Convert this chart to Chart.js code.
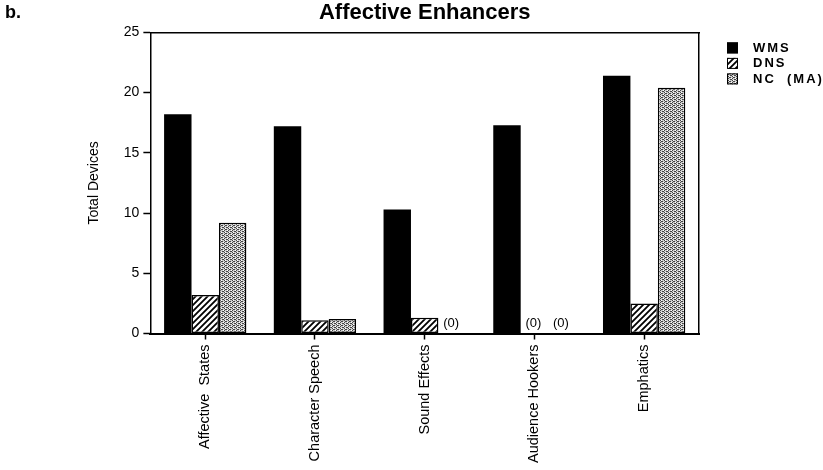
<!DOCTYPE html>
<html>
<head>
<meta charset="utf-8">
<script src="https://cdn.jsdelivr.net/npm/chart.js@4.4.1/dist/chart.umd.min.js"></script>
<style>
  html, body { margin: 0; padding: 0; background: #fff; }
  #wrap { width: 823px; height: 470px; position: relative; }
</style>
</head>
<body>
<div id="wrap"><canvas id="c" width="823" height="470"></canvas></div>
<script>
// ---- data ----
const categories = ['Affective  States', 'Character Speech', 'Sound Effects', 'Audience Hookers', 'Emphatics'];
const seriesNames = ['WMS', 'DNS', 'NC  (MA)'];
const wmsValues = [18.2, 17.2, 10.3, 17.3, 21.4];
const dnsValues = [3.2, 1.1, 1.3, 0, 2.5];
const ncValues = [9.2, 1.2, 0, 0, 20.4];
const yTickValues = [0, 5, 10, 15, 20, 25];
const chartTitle = 'Affective Enhancers';
const panelLabel = 'b.';
const yAxisTitle = 'Total Devices';
const zeroLabel = '(0)';

const FONT = '"Liberation Sans", Arial, Helvetica, sans-serif';

function hatchPattern() {
  const c = document.createElement('canvas');
  c.width = 6; c.height = 6;
  const g = c.getContext('2d');
  g.fillStyle = '#fff'; g.fillRect(0, 0, 6, 6);
  g.strokeStyle = '#000'; g.lineWidth = 1.8;
  g.beginPath();
  g.moveTo(-1, 7); g.lineTo(7, -1);
  g.moveTo(-4, 4); g.lineTo(4, -4);
  g.moveTo(2, 10); g.lineTo(10, 2);
  g.stroke();
  return g.createPattern(c, 'repeat');
}
function stipplePattern() {
  const c = document.createElement('canvas');
  c.width = 4; c.height = 4;
  const g = c.getContext('2d');
  g.fillStyle = '#cfcfcf'; g.fillRect(0, 0, 4, 4);
  g.fillStyle = '#444';
  [[0,0],[2,1],[0,2],[2,3],[1,1],[3,3]].forEach(p => g.fillRect(p[0], p[1], 1, 1));
  g.fillStyle = '#fff';
  [[1,0],[3,2]].forEach(p => g.fillRect(p[0], p[1], 1, 1));
  return g.createPattern(c, 'repeat');
}

const fills = ['#000', hatchPattern(), stipplePattern()];
const valueSets = [wmsValues, dnsValues, ncValues];

const datasets = seriesNames.map((name, i) => ({
  label: name,
  data: valueSets[i],
  backgroundColor: fills[i],
  borderColor: '#000',
  borderWidth: (ctx) => (ctx.raw === 0 ? 0 : (i === 0 ? 0 : 1.5)),
  borderSkipped: false,
  categoryPercentage: 0.75,
  barPercentage: 1.0
}));

const extrasPlugin = {
  id: 'extras',
  afterDatasetsDraw(chart) {
    const ctx = chart.ctx;
    ctx.save();
    ctx.font = '13px ' + FONT;
    ctx.fillStyle = '#000';
    ctx.textAlign = 'center';
    ctx.textBaseline = 'bottom';
    chart.data.datasets.forEach((ds, di) => {
      const meta = chart.getDatasetMeta(di);
      ds.data.forEach((v, j) => {
        if (v === 0) {
          const el = meta.data[j];
          ctx.fillText(zeroLabel, el.x - 1, el.y - 4);
        }
      });
    });
    ctx.restore();
  },
  afterDraw(chart) {
    const ctx = chart.ctx;
    const area = chart.chartArea;
    ctx.save();
    // panel label
    ctx.fillStyle = '#000';
    ctx.font = 'bold 18px ' + FONT;
    ctx.textAlign = 'left';
    ctx.textBaseline = 'top';
    ctx.fillText(panelLabel, 5, 4);
    // legend
    const lx = area.right + 28;
    let ly = area.top + 10;
    ctx.font = 'bold 13px ' + FONT;
    try { ctx.letterSpacing = '2px'; } catch (e) {}
    ctx.textBaseline = 'middle';
    chart.data.datasets.forEach((ds) => {
      ctx.fillStyle = ds.backgroundColor;
      ctx.fillRect(lx, ly, 11, 11);
      ctx.strokeStyle = '#000';
      ctx.lineWidth = 1;
      ctx.strokeRect(lx + 0.5, ly + 0.5, 10, 10);
      ctx.fillStyle = '#000';
      ctx.fillText(ds.label, lx + 26, ly + 6);
      ly += 15.5;
    });
    ctx.restore();
  }
};

new Chart(document.getElementById('c'), {
  type: 'bar',
  data: { labels: categories, datasets },
  plugins: [extrasPlugin],
  options: {
    responsive: false,
    animation: false,
    devicePixelRatio: 1,
    layout: { padding: { left: 86, right: 124, top: 0, bottom: 2 } },
    plugins: {
      legend: { display: false },
      tooltip: { enabled: false },
      title: {
        display: true,
        text: chartTitle,
        fullSize: false,
        color: '#000',
        font: { family: FONT, size: 22, weight: 'bold' },
        padding: { top: 0, bottom: 6 }
      }
    },
    scales: {
      x: {
        type: 'category',
        offset: true,
        grid: { display: true, offset: false, drawOnChartArea: false, drawTicks: true, tickLength: 6, tickColor: '#000', tickWidth: 1.5 },
        border: { display: true, color: '#000', width: 2 },
        ticks: {
          color: '#000',
          minRotation: 90, maxRotation: 90,
          padding: 5,
          autoSkip: false,
          font: { family: FONT, size: 14.5 }
        }
      },
      x2: {
        type: 'category',
        labels: categories,
        position: 'top',
        offset: true,
        grid: { display: false, drawTicks: false },
        border: { display: true, color: '#000', width: 1.5 },
        ticks: { display: false }
      },
      y: {
        min: 0, max: 25,
        afterBuildTicks: (scale) => { scale.ticks = yTickValues.map(v => ({ value: v })); },
        grid: { display: true, drawOnChartArea: false, drawTicks: true, tickLength: 7, tickColor: '#000', tickWidth: 1.5 },
        border: { display: true, color: '#000', width: 1.5 },
        ticks: { color: '#000', padding: 4, font: { family: FONT, size: 14 } },
        title: {
          display: true,
          text: yAxisTitle,
          color: '#000',
          font: { family: FONT, size: 14 },
          padding: { top: 0, bottom: 17 }
        }
      },
      y2: {
        position: 'right',
        min: 0, max: 25,
        grid: { display: false, drawTicks: false },
        border: { display: true, color: '#000', width: 1.5 },
        ticks: { display: false }
      }
    }
  }
});
</script>
</body>
</html>
